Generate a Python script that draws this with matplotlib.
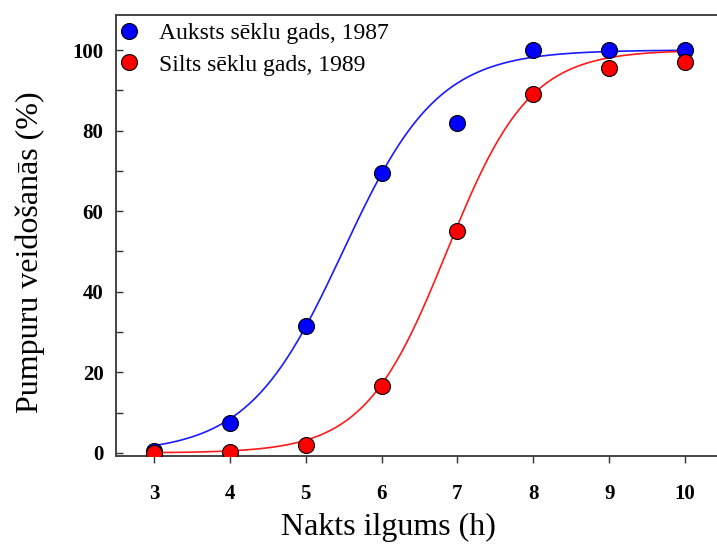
import numpy as np
import matplotlib.pyplot as plt

# Nakts ilgums (h)
nights = [3, 4, 5, 6, 7, 8, 9, 10]

# Pumpuru veidošanās (%), nolasīts no attēla
cold_1987 = [0.5, 7.4, 31.5, 69.5, 82.0, 100.0, 100.0, 100.0]
warm_1989 = [0.0, 0.3, 2.0, 16.6, 55.0, 89.0, 95.5, 97.0]

# logistiskās līknes parametri (viduspunkts, slīpums)
cold_fit = (5.49, 1.6)
warm_fit = (6.86, 1.84)

labels = ["Auksts sēklu gads, 1987", "Silts sēklu gads, 1989"]
x_ticks = [3, 4, 5, 6, 7, 8, 9, 10]
y_ticks = [0, 20, 40, 60, 80, 100]


def logistic(x, x0, k):
    return 100.0 / (1.0 + np.exp(-k * (x - x0)))


plt.rcParams["font.family"] = ["Liberation Serif", "DejaVu Serif"]

fig = plt.figure(figsize=(7.17, 5.44), dpi=100)
ax = fig.add_axes([0.1618, 0.1618, 0.8382, 0.8107])

xs = np.linspace(3, 10, 300)
ax.plot(xs, logistic(xs, *cold_fit), color="#1a1aff", lw=1.2, zorder=2)
ax.plot(xs, logistic(xs, *warm_fit), color="#ff1a1a", lw=1.2, zorder=2)

ax.plot(nights, cold_1987, "o", color="#0000ff", mec="black", mew=0.8,
        ms=11.5, label=labels[0], zorder=3)
ax.plot(nights, warm_1989, "o", color="#ff0000", mec="black", mew=0.8,
        ms=11.5, label=labels[1], zorder=4)

ax.set_xlim(2.5, 10.42)
ax.set_ylim(-0.75, 108.7)

ax.set_xticks(x_ticks)
ax.set_xticklabels([str(t) for t in x_ticks], fontsize=15, fontweight="bold")
ax.set_yticks(y_ticks)
ax.set_yticklabels([str(t) for t in y_ticks], fontsize=15, fontweight="bold")
ax.set_yticks(np.arange(10, 110, 20), minor=True)

ax.tick_params(axis="x", direction="out", length=5, width=1, color="#333333",
               pad=15)
ax.tick_params(axis="y", which="both", direction="in", length=5, width=1,
               color="#333333", pad=9)

for side in ["left", "bottom", "top"]:
    ax.spines[side].set_linewidth(1.4)
    ax.spines[side].set_color("#444444")
ax.spines["right"].set_visible(False)

ax.set_xlabel("Nakts ilgums (h)", fontsize=23, va="center")
ax.set_ylabel("Pumpuru veidošanās (%)", fontsize=23, va="center")
ax.xaxis.set_label_coords(0.453, -0.161)
ax.yaxis.set_label_coords(-0.143, 0.463)

ax.legend(loc="upper left", bbox_to_anchor=(-0.03, 1.02), frameon=False,
          fontsize=17, handletextpad=0.7, labelspacing=0.42, borderaxespad=0.3,
          handlelength=1.2)

fig.savefig("out.png", dpi=100)
